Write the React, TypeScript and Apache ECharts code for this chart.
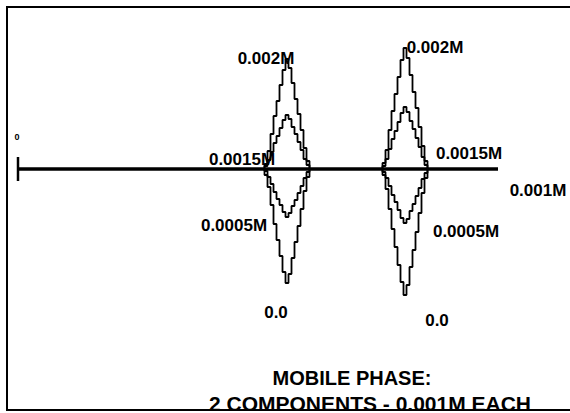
import React, { useEffect, useRef } from "react";
import * as echarts from "echarts";

// Sample positions (chart units) around the two elution peaks
const peak1X = [245, 248, 251, 254, 257, 260, 263, 266, 269, 272, 275, 278, 281, 284, 287, 290, 293];
const peak2X = [363, 366, 369, 372, 375, 378, 381, 384, 387, 390, 393, 396, 399, 402, 405, 408, 411];

// Detector response for each mobile-phase concentration (peak 1, peak 2)
const c002P1 = [0, 5, 18, 35, 53, 68, 84, 99, 110, 101, 86, 70, 55, 39, 21, 8, 0];
const c002P2 = [0, 6, 19, 39, 58, 75, 92, 109, 121, 111, 94, 77, 61, 42, 23, 8, 0];
const c0015P1 = [0, 3, 9, 17, 26, 33, 41, 49, 54, 50, 42, 35, 27, 19, 10, 4, 0];
const c0015P2 = [0, 3, 10, 20, 30, 38, 47, 56, 62, 57, 48, 40, 31, 22, 12, 4, 0];
const c0005P1 = [0, -2, -8, -15, -23, -30, -36, -43, -48, -44, -37, -31, -24, -17, -9, -3, 0];
const c0005P2 = [0, -3, -9, -17, -26, -33, -41, -49, -54, -50, -42, -35, -27, -19, -10, -4, 0];
const c000P1 = [0, -6, -18, -36, -55, -71, -87, -103, -114, -105, -89, -73, -57, -40, -22, -8, 0];
const c000P2 = [0, -6, -20, -40, -60, -78, -96, -113, -126, -116, -98, -81, -63, -44, -24, -9, 0];

const baselineStart = 0;
const baselineEnd = 480;

// Curve labels: [x, y, text]
const labelX = [248, 417, 224, 451, 520, 216, 448, 258, 419];
const labelY = [111, 122, 10, 16, -21, -56, -62, -143, -151];
const labelText = ["0.002M", "0.002M", "0.0015M", "0.0015M", "0.001M", "0.0005M", "0.0005M", "0.0", "0.0"];

const FONT = "'Liberation Sans', Arial, Helvetica, sans-serif";

function build(p1: number[], p2: number[]) {
  return [
    [baselineStart, 0],
    ...peak1X.map((x, i) => [x, p1[i]]),
    ...peak2X.map((x, i) => [x, p2[i]]),
    [baselineEnd, 0],
  ];
}

export default function App() {
  const ref = useRef<HTMLDivElement>(null);
  useEffect(() => {
    if (!ref.current) return;
    const chart = echarts.init(ref.current, null, { renderer: "svg" });
    const curve = (name: string, data: number[][]) => ({
      name,
      type: "line",
      data,
      step: "middle",
      showSymbol: false,
      silent: true,
      lineStyle: { color: "#000", width: 1.8 },
    });
    const txt = (text: string, x: number, y: number, size: number) => ({
      type: "text",
      x,
      y,
      silent: true,
      style: {
        text,
        fill: "#000",
        fontFamily: FONT,
        fontWeight: "bold",
        fontSize: size,
        align: "center",
        verticalAlign: "middle",
      },
    });
    chart.setOption({
      animation: false,
      backgroundColor: "#fff",
      grid: { left: 0, top: 0, width: 570, height: 413 },
      xAxis: { type: "value", min: -18, max: 552, show: false },
      yAxis: { type: "value", min: -244, max: 169, show: false },
      series: [
        curve("0.002M", build(c002P1, c002P2)),
        curve("0.0015M", build(c0015P1, c0015P2)),
        curve("0.0005M", build(c0005P1, c0005P2)),
        curve("0.0", build(c000P1, c000P2)),
        {
          name: "0.001M",
          type: "line",
          data: [
            [baselineStart, 0],
            [baselineEnd, 0],
          ],
          showSymbol: false,
          silent: true,
          lineStyle: { color: "#000", width: 3.5 },
        },
        {
          name: "tick",
          type: "line",
          data: [
            [baselineStart, -12],
            [baselineStart, 12],
          ],
          showSymbol: false,
          silent: true,
          lineStyle: { color: "#000", width: 2.5 },
        },
        {
          name: "labels",
          type: "scatter",
          symbolSize: 0,
          clip: false,
          silent: true,
          itemStyle: { color: "#000", opacity: 1 },
          data: labelX.map((x, i) => [x, labelY[i], labelText[i]]),
          label: {
            show: true,
            position: "inside",
            formatter: (p: any) => p.data[2],
            color: "#000",
            opacity: 1,
            textBorderWidth: 0,
            textBorderColor: "transparent",
            fontFamily: FONT,
            fontWeight: "bold",
            fontSize: 17,
            align: "center",
            verticalAlign: "middle",
          },
        },
      ],
      graphic: [
        {
          type: "rect",
          silent: true,
          shape: { x: 7, y: 7, width: 700, height: 403 },
          style: { fill: "none", stroke: "#000", lineWidth: 2 },
        },
        txt("0", 17, 137, 9),
        txt("MOBILE PHASE:", 352, 378, 20),
        txt("2 COMPONENTS - 0.001M EACH", 370, 403, 21),
      ],
    });
    return () => chart.dispose();
  }, []);
  return <div ref={ref} style={{ width: 570, height: 413, position: "absolute", left: 0, top: 0 }} />;
}
